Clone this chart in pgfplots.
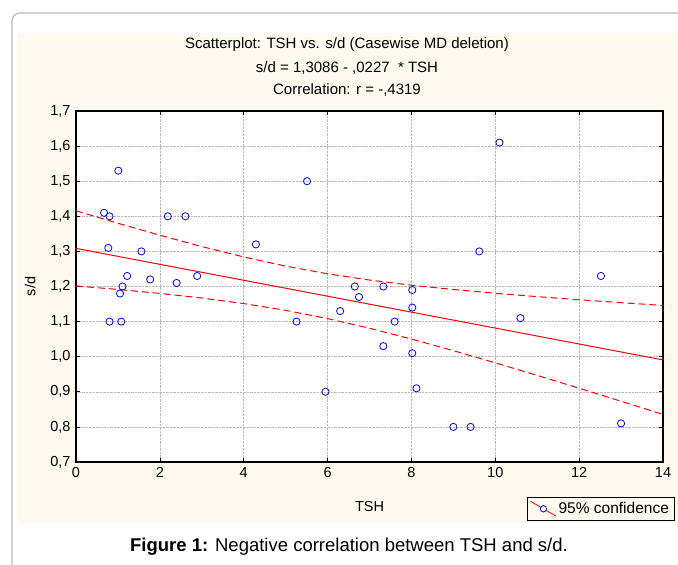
\documentclass[border=0pt]{standalone}
\usepackage{pgfplots}
\pgfplotsset{compat=1.18}
\usepackage{fontspec}
\setmainfont{Liberation Sans}

\definecolor{panel}{RGB}{253,249,238}
\definecolor{framegray}{RGB}{185,185,185}

\begin{document}
\begin{tikzpicture}
  \useasboundingbox (0pt,0pt) rectangle (678pt,565pt);
  \fill[white] (0pt,0pt) rectangle (678pt,565pt);
  \draw[framegray, line width=1.2pt, rounded corners=8pt] (12pt,-20pt) -- (12pt,552pt) -- (700pt,552pt);
  \fill[panel] (17pt,42pt) rectangle (690pt,532pt);

  % titles
  \node[font=\fontsize{15}{17}\selectfont] at (347pt,520pt) {Scatterplot: TSH vs. s/d (Casewise MD deletion)};
  \node[font=\fontsize{15}{17}\selectfont] at (347pt,497pt) {s/d = 1,3086 - ,0227~ * TSH};
  \node[font=\fontsize{15}{17}\selectfont] at (347pt,475pt) {Correlation: r = -,4319};

  \begin{axis}[
    at={(76pt,103pt)}, anchor=south west,
    width=587pt, height=351pt, scale only axis,
    xmin=0, xmax=14, ymin=0.7, ymax=1.7,
    xtick={0,2,...,14},
    ytick={0.7,0.8,0.9,1.0,1.1,1.2,1.3,1.4,1.5,1.6,1.7},
    tick align=inside,
    major tick length=4pt,
    tick style={black, line width=0.6pt},
    axis line style={black, line width=1.2pt},
    axis background/.style={fill=white},
    grid=major,
    major grid style={gray!55, densely dotted, line width=0.5pt},
    tick label style={font=\fontsize{14.5}{16}\selectfont},
    /pgf/number format/assume math mode=true,
    yticklabel style={xshift=-2pt, /pgf/number format/.cd, fixed, fixed zerofill, precision=1, use comma},
    xticklabel style={yshift=-2pt, /pgf/number format/.cd, fixed, precision=0},
    xlabel={TSH}, ylabel={s/d},
    label style={font=\fontsize{14.5}{16}\selectfont},
    xlabel style={at={(axis description cs:0.5,-0.128)}, anchor=center},
    ylabel style={at={(axis description cs:-0.078,0.5)}, anchor=center},
    legend style={at={(axis description cs:0.768,-0.0997)}, anchor=north west,
      fill=panel, draw=black, line width=0.8pt,
      font=\fontsize{15.5}{17}\selectfont, inner xsep=3pt, inner ysep=3pt},
    legend cell align=left,
  ]
    \addplot[only marks, mark=o, mark size=3.6pt, blue, line width=0.8pt,
      legend image code/.code={
        \draw[red, line width=0.8pt] (-0.05cm,0.26cm) -- (0.85cm,-0.26cm);
        \draw[blue, line width=0.8pt, fill=panel] (0.4cm,0cm) circle (3.2pt);
      }] coordinates {
      (0.67,1.41) (0.80,1.40) (1.01,1.53) (0.77,1.31) (1.56,1.30)
      (2.19,1.40) (2.61,1.40) (1.22,1.23) (1.11,1.20) (1.05,1.18)
      (1.77,1.22) (2.40,1.21) (2.89,1.23) (0.80,1.10) (1.08,1.10)
      (4.29,1.32) (5.51,1.50) (5.26,1.10) (5.95,0.90) (6.30,1.13)
      (6.65,1.20) (6.75,1.17) (10.10,1.61) (9.62,1.30) (7.33,1.20)
      (8.02,1.19) (8.02,1.14) (7.60,1.10) (7.33,1.03) (8.02,1.01)
      (8.12,0.91) (9.00,0.80) (9.41,0.80) (10.60,1.11) (12.52,1.23)
      (13.00,0.81)
    };
    \addlegendentry{95\% confidence}
    % regression line
    \addplot[red, line width=1pt, forget plot] coordinates {(0,1.3086) (14,0.9908)};
    % upper 95% band
    \addplot[red, line width=1pt, dash pattern=on 7pt off 4pt, forget plot] coordinates {
      (0,1.4157) (1,1.3802) (2,1.3461) (3,1.3138) (4,1.2842) (5,1.2581) (6,1.2362)
      (7,1.2183) (8,1.2037) (9,1.1914) (10,1.1807) (11,1.1711) (12,1.1622)
      (13,1.1539) (14,1.1460)
    };
    % lower 95% band
    \addplot[red, line width=1pt, dash pattern=on 7pt off 4pt, forget plot] coordinates {
      (0,1.2015) (1,1.1916) (2,1.1803) (3,1.1672) (4,1.1514) (5,1.1321) (6,1.1086)
      (7,1.0811) (8,1.0503) (9,1.0172) (10,0.9825) (11,0.9467) (12,0.9102)
      (13,0.8731) (14,0.8356)
    };
  \end{axis}

  \node[font=\fontsize{18.5}{21}\selectfont] at (349pt,18pt) {\textbf{Figure 1:} Negative correlation between TSH and s/d.};
\end{tikzpicture}
\end{document}
